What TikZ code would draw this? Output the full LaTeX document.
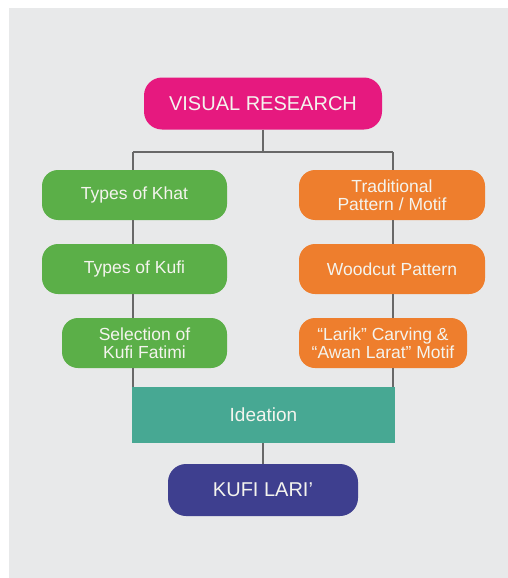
\documentclass[tikz,border=0pt]{standalone}
\usepackage{fontspec}
\setmainfont{Liberation Sans}
\definecolor{bgpanel}{HTML}{E8E9EA}
\definecolor{cpink}{HTML}{E6197F}
\definecolor{cgreen}{HTML}{5BAF48}
\definecolor{corange}{HTML}{EE7E2D}
\definecolor{cteal}{HTML}{47A893}
\definecolor{cnavy}{HTML}{3E3F8F}
\definecolor{cline}{HTML}{686868}
\definecolor{ctext}{HTML}{F4F4EE}
\begin{document}
\begin{tikzpicture}[x=1pt,y=-1pt,
  box/.style={rounded corners=16pt, inner sep=0pt, text=ctext, align=center,
    minimum height=50pt, font=\fontsize{17.5}{17.5}\selectfont},
  bigbox/.style={box, minimum height=52pt, rounded corners=18pt, font=\fontsize{20}{22}\selectfont},
  link/.style={draw=cline, line width=1.6pt}]
\useasboundingbox (0,0) rectangle (508,578);
\fill[white] (0,0) rectangle (508,578);
\fill[bgpanel] (9,8) rectangle (508,578);
\coordinate (hl) at (133,152);
\coordinate (hr) at (393,152);
\node[bigbox, fill=cpink, minimum width=238pt] (vr) at (263,103.5) {VISUAL RESEARCH};
\node[box, fill=cgreen, minimum width=185pt] (khat) at (134.5,195) {Types of Khat};
\node[box, fill=cgreen, minimum width=185pt] (kufi) at (134.5,269) {Types of Kufi};
\node[box, fill=cgreen, minimum width=165pt] (sel) at (144.5,343) {Selection of\\Kufi Fatimi};
\node[box, fill=corange, minimum width=186pt] (trad) at (392,195) {Traditional\\Pattern / Motif};
\node[box, fill=corange, minimum width=186pt] (wood) at (392,269) {Woodcut Pattern};
\node[box, fill=corange, minimum width=168pt] (larik) at (383,343) {``Larik'' Carving \&\\``Awan Larat'' Motif};
\node[fill=cteal, inner sep=0pt, minimum width=263pt, minimum height=56pt, text=ctext,
  font=\fontsize{19}{20}\selectfont] (idea) at (263.5,415) {Ideation};
\node[bigbox, fill=cnavy, minimum width=190pt] (kl) at (263,490) {KUFI LARI'};
\draw[link] (vr.south) -- (vr.south |- hl);
\draw[link] (hl) -- (hr);
\draw[link] (hl) -- (khat.north -| hl);
\draw[link] (khat.south -| hl) -- (kufi.north -| hl);
\draw[link] (kufi.south -| hl) -- (sel.north -| hl);
\draw[link] (sel.south -| hl) -- (idea.north -| hl);
\draw[link] (hr) -- (trad.north -| hr);
\draw[link] (trad.south -| hr) -- (wood.north -| hr);
\draw[link] (wood.south -| hr) -- (larik.north -| hr);
\draw[link] (larik.south -| hr) -- (idea.north -| hr);
\draw[link] (idea.south -| kl) -- (kl.north);
\end{tikzpicture}
\end{document}
